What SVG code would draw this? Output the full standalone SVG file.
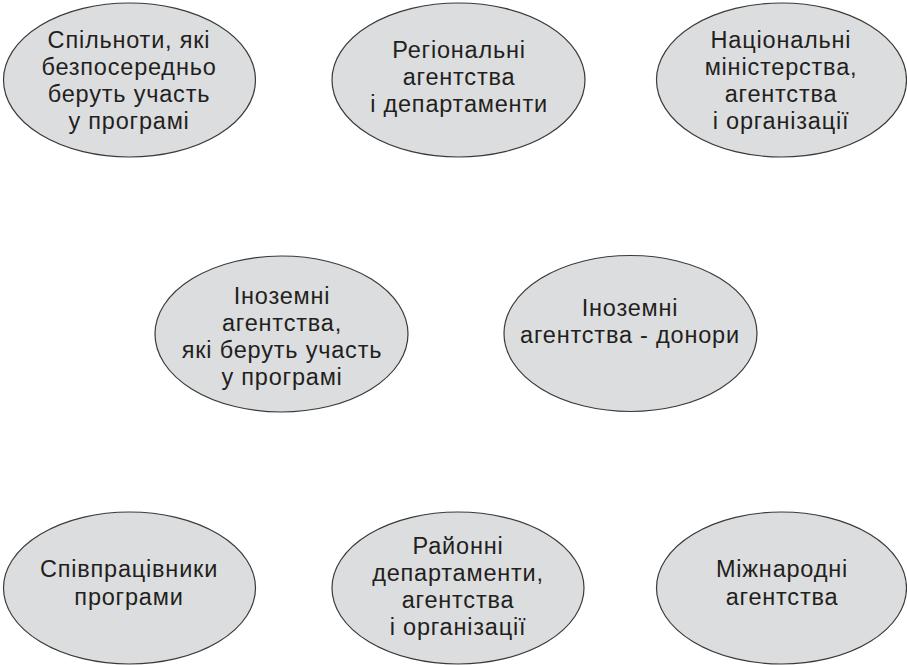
<svg xmlns="http://www.w3.org/2000/svg" width="907" height="665" viewBox="0 0 907 665">
<style>
.n{fill:#dcdddf;stroke:#3a3a3a;stroke-width:1.2}
.t{font-family:"Liberation Sans",Arial,sans-serif;font-size:23.5px;letter-spacing:0.8px;fill:#231f20;text-anchor:middle}
</style>
<rect width="907" height="665" fill="#ffffff"/>
<g id="connectors"></g>
<g id="n1"><ellipse class="n" cx="129.5" cy="80" rx="126" ry="77"/>
<text class="t" x="129" y="48">Спільноти, які</text><text class="t" x="129" y="75">безпосередньо</text><text class="t" x="129" y="102">беруть участь</text><text class="t" x="129" y="129">у програмі</text></g>
<g id="n2"><ellipse class="n" cx="458.5" cy="80" rx="126.5" ry="77"/>
<text class="t" x="459" y="58">Регіональні</text><text class="t" x="459" y="85">агентства</text><text class="t" x="459" y="112">і департаменти</text></g>
<g id="n3"><ellipse class="n" cx="781.5" cy="80" rx="125" ry="77"/>
<text class="t" x="781" y="48">Національні</text><text class="t" x="781" y="75">міністерства,</text><text class="t" x="781" y="102">агентства</text><text class="t" x="781" y="129">і організації</text></g>
<g id="n4"><ellipse class="n" cx="281.5" cy="334" rx="126.5" ry="78"/>
<text class="t" x="282" y="304">Іноземні</text><text class="t" x="282" y="331">агентства,</text><text class="t" x="282" y="358">які беруть участь</text><text class="t" x="282" y="385">у програмі</text></g>
<g id="n5"><ellipse class="n" cx="630.5" cy="333.5" rx="126.5" ry="78"/>
<text class="t" x="630" y="316">Іноземні</text><text class="t" x="630" y="343">агентства - донори</text></g>
<g id="n6"><ellipse class="n" cx="129.5" cy="588" rx="126" ry="76"/>
<text class="t" x="129" y="577">Співпрацівники</text><text class="t" x="129" y="605">програми</text></g>
<g id="n7"><ellipse class="n" cx="458" cy="588" rx="126" ry="76"/>
<text class="t" x="458" y="554">Районні</text><text class="t" x="458" y="581">департаменти,</text><text class="t" x="458" y="608">агентства</text><text class="t" x="458" y="635">і організації</text></g>
<g id="n8"><ellipse class="n" cx="781.5" cy="588" rx="125" ry="76"/>
<text class="t" x="782" y="577">Міжнародні</text><text class="t" x="782" y="605">агентства</text></g>
</svg>
